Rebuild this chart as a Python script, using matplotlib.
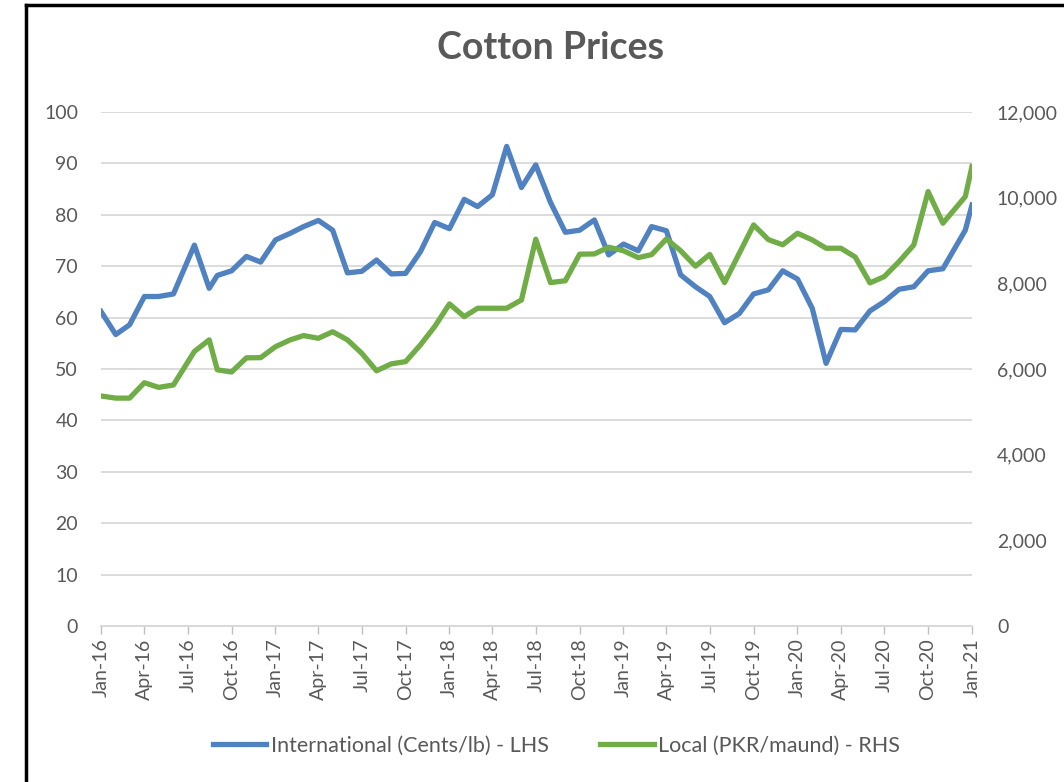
import matplotlib.pyplot as plt
import matplotlib.dates as mdates
import pandas as pd
from matplotlib.lines import Line2D
from matplotlib.ticker import FuncFormatter

# monthly observations; a few were taken mid-month
dates = pd.to_datetime(
    [f"2016-{m:02d}-01" for m in range(1, 7)]
    + ["2016-07-15", "2016-08-15"]
    + [f"2016-{m:02d}-01" for m in range(9, 13)]
    + [f"{y}-{m:02d}-01" for y in (2017, 2018, 2019) for m in range(1, 13)]
    + [f"2020-{m:02d}-01" for m in range(1, 12)]
    + ["2020-12-18", "2021-01-01"]
)

international = [
    61.2, 56.7, 58.6, 64.1, 64.1, 64.6, 74.1, 65.7, 68.2, 69.1, 71.9, 70.8,
    75.1, 76.4, 77.7, 78.9, 77.0, 68.7, 69.0, 71.2, 68.5, 68.6, 72.8, 78.5,
    77.3, 83.0, 81.6, 83.9, 93.3, 85.3, 89.7, 82.4, 76.6, 77.0, 79.0, 72.2,
    74.3, 73.0, 77.7, 76.9, 68.3, 66.0, 64.1, 59.0, 60.8, 64.6, 65.4, 69.1,
    67.5, 61.8, 51.1, 57.7, 57.6, 61.3, 63.1, 65.5, 66.0, 69.1, 69.5, 77.0,
    81.9,
]

local = [
    5370, 5320, 5320, 5680, 5570, 5627, 6410, 6680, 5980, 5930, 6260, 6265,
    6520, 6680, 6780, 6717, 6870, 6680, 6367, 5958, 6120, 6172, 6561, 6990,
    7519, 7222, 7418, 7418, 7418, 7612, 9030, 8017, 8060, 8680, 8686, 8843,
    8760, 8600, 8670, 9035, 8760, 8400, 8675, 8017, 8702, 9363, 9020, 8900,
    9169, 9013, 8819, 8819, 8615, 8010, 8156, 8506, 8896, 10141, 9403, 10025,
    10725,
]

blue = "#5081C0"
green = "#70AD47"
grey = "#595959"

plt.rcParams["font.family"] = ["Lato", "DejaVu Sans"]

fig = plt.figure(figsize=(10.64, 7.82), dpi=100)
ax = fig.add_axes([0.0949, 0.1995, 0.8186, 0.6573])
ax2 = ax.twinx()

ax.plot(dates, international, color=blue, lw=3.8, solid_joinstyle="round",
        label="International (Cents/lb) - LHS")
ax2.plot(dates, local, color=green, lw=3.8, solid_joinstyle="round",
         label="Local (PKR/maund) - RHS")

ax.set_xlim(pd.Timestamp("2016-01-01"), pd.Timestamp("2021-01-01"))
ax.set_ylim(0, 100)
ax2.set_ylim(0, 12000)
ax.set_yticks(range(0, 101, 10))
ax2.set_yticks(range(0, 12001, 2000))
ax2.yaxis.set_major_formatter(FuncFormatter(lambda v, p: f"{int(v):,}"))

ax.xaxis.set_major_locator(mdates.MonthLocator(bymonth=[1, 4, 7, 10]))
ax.xaxis.set_major_formatter(mdates.DateFormatter("%b-%y"))
plt.setp(ax.get_xticklabels(), rotation=90)

ax.grid(axis="y", color="#D9D9D9", lw=1.3)
ax.set_axisbelow(True)
for a in (ax, ax2):
    for s in ("top", "left", "right"):
        a.spines[s].set_visible(False)
    a.spines["bottom"].set_color("#D9D9D9")
    a.spines["bottom"].set_linewidth(1.3)
ax.tick_params(axis="y", length=0, pad=16.5, labelsize=14, labelcolor=grey)
ax2.tick_params(axis="y", length=0, pad=18, labelsize=14, labelcolor=grey)
ax.tick_params(axis="x", length=6, width=1, color="#BFBFBF", pad=3,
               labelsize=14, labelcolor=grey)

fig.text(0.517, 0.938, "Cotton Prices", ha="center", va="center",
         fontsize=27, fontweight="bold", color=grey)

handles = ax.get_lines() + ax2.get_lines()
fig.legend(handles, [h.get_label() for h in handles], loc="center",
           bbox_to_anchor=(0.523, 0.046), ncol=2, frameon=False,
           fontsize=15.5, labelcolor=grey, handlelength=2.5,
           handletextpad=0.2, columnspacing=2.4)

# chart border (partly cropped in the original)
fig.add_artist(Line2D([0.0245, 0.0245], [0.994, -0.1], color="black", lw=2.5,
                      transform=fig.transFigure))
fig.add_artist(Line2D([0.0245, 1.1], [0.994, 0.994], color="black", lw=2.5,
                      transform=fig.transFigure))

fig.savefig("out.png", dpi=100)
